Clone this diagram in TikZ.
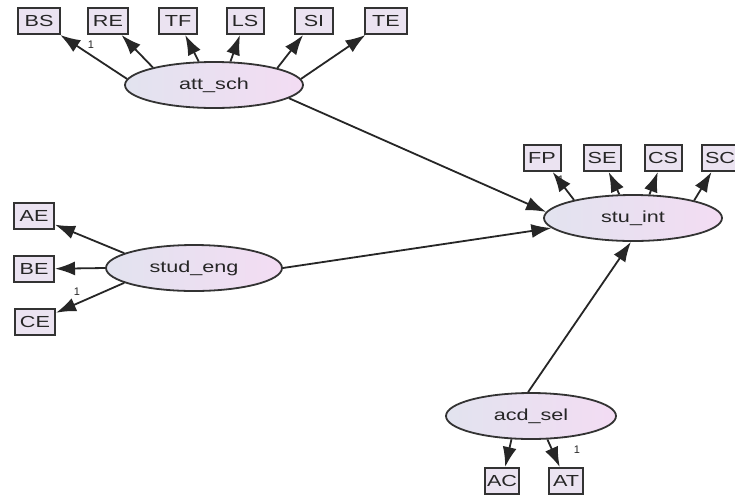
\documentclass[tikz,border=0pt]{standalone}
\usepackage{fontspec}
\setmainfont{Liberation Sans}
\usetikzlibrary{shapes.geometric,arrows.meta}
\newcommand\wtxt[1]{\scalebox{1.35}[1]{#1}}
\definecolor{latL}{HTML}{E2E3EF}
\definecolor{latR}{HTML}{F3DCF3}
\definecolor{indF}{HTML}{EBE3F1}
\definecolor{edge}{HTML}{333333}
\begin{document}
\begin{tikzpicture}[x=1pt,y=-1pt,
  lat/.style={ellipse,draw=edge,line width=1.8pt,minimum width=#1,minimum height=46pt,inner sep=0pt,
    left color=latL,right color=latR,font=\fontsize{16}{18}\selectfont,text=black!85},
  lat/.default=178pt,
  ind/.style={rectangle,draw=edge,line width=2pt,minimum width=#1,minimum height=26pt,inner sep=0pt,
    fill=indF,font=\fontsize{16}{18}\selectfont,text=black!85},
  ind/.default=38pt,
  arr/.style={-{Latex[length=20pt,width=14pt]},line width=1.8pt,black!85},
  one/.style={font=\fontsize{11}{12}\selectfont,inner sep=0pt,text=black!85}]
\fill[white] (0,0) rectangle (735,499);
\useasboundingbox (0,0) rectangle (735,499);
% latent variables
\node[lat] (att) at (214,85) {\wtxt{att\_sch}};
\node[lat] (stu) at (633,218) {\wtxt{stu\_int}};
\node[lat=176pt] (eng) at (194,268) {\wtxt{stud\_eng}};
\node[lat=170pt] (acd) at (531,416) {\wtxt{acd\_sel}};
% indicators
\node[ind=42pt] (BS) at (39,21) {\wtxt{BS}};
\node[ind=40pt] (RE) at (108,21) {\wtxt{RE}};
\node[ind] (TF) at (178,21) {\wtxt{TF}};
\node[ind=37pt] (LS) at (245,21) {\wtxt{LS}};
\node[ind] (SI) at (314,21) {\wtxt{SI}};
\node[ind=42pt] (TE) at (386,21) {\wtxt{TE}};
\node[ind=37pt] (FP) at (542,158) {\wtxt{FP}};
\node[ind=37pt] (SE) at (602,158) {\wtxt{SE}};
\node[ind=37pt] (CS) at (663,158) {\wtxt{CS}};
\node[ind=37pt] (SC) at (720,158) {\wtxt{SC}};
\node[ind=40pt] (AE) at (34,216) {\wtxt{AE}};
\node[ind=40pt] (BE) at (34,269) {\wtxt{BE}};
\node[ind=40pt] (CE) at (35,322) {\wtxt{CE}};
\node[ind=34pt] (AC) at (502,481) {\wtxt{AC}};
\node[ind=34pt] (AT) at (566,481) {\wtxt{AT}};
% loadings
\draw[arr] (att.176) -- (BS);
\draw[arr] (att.164) -- (RE);
\draw[arr] (att.123) -- (TF);
\draw[arr] (att.55) -- (LS);
\draw[arr] (att.15) -- (SI);
\draw[arr] (att.4) -- (TE);
\draw[arr] (stu.163) -- (FP);
\draw[arr] (stu.120) -- (SE);
\draw[arr] (stu.55) -- (CS);
\draw[arr] (stu.16) -- (SC);
\draw[arr] (eng.168) -- (AE);
\draw[arr] (eng.west) -- (BE);
\draw[arr] (eng.192) -- (CE);
\draw[arr] (acd.230) -- (AC);
\draw[arr] (acd.305) -- (AT);
% structural paths
\draw[arr] (att.-10) -- (stu.176);
\draw[arr] (eng.east) -- (stu.187);
\draw[arr] (acd.97) -- (stu.-95);
% fixed loadings
\node[one] (o1) at (91,45) {1};
\node[one] (o2) at (561,180) {1};
\node[one] (o3) at (77,292) {1};
\node[one] (o4) at (577,450) {1};
\end{tikzpicture}
\end{document}
